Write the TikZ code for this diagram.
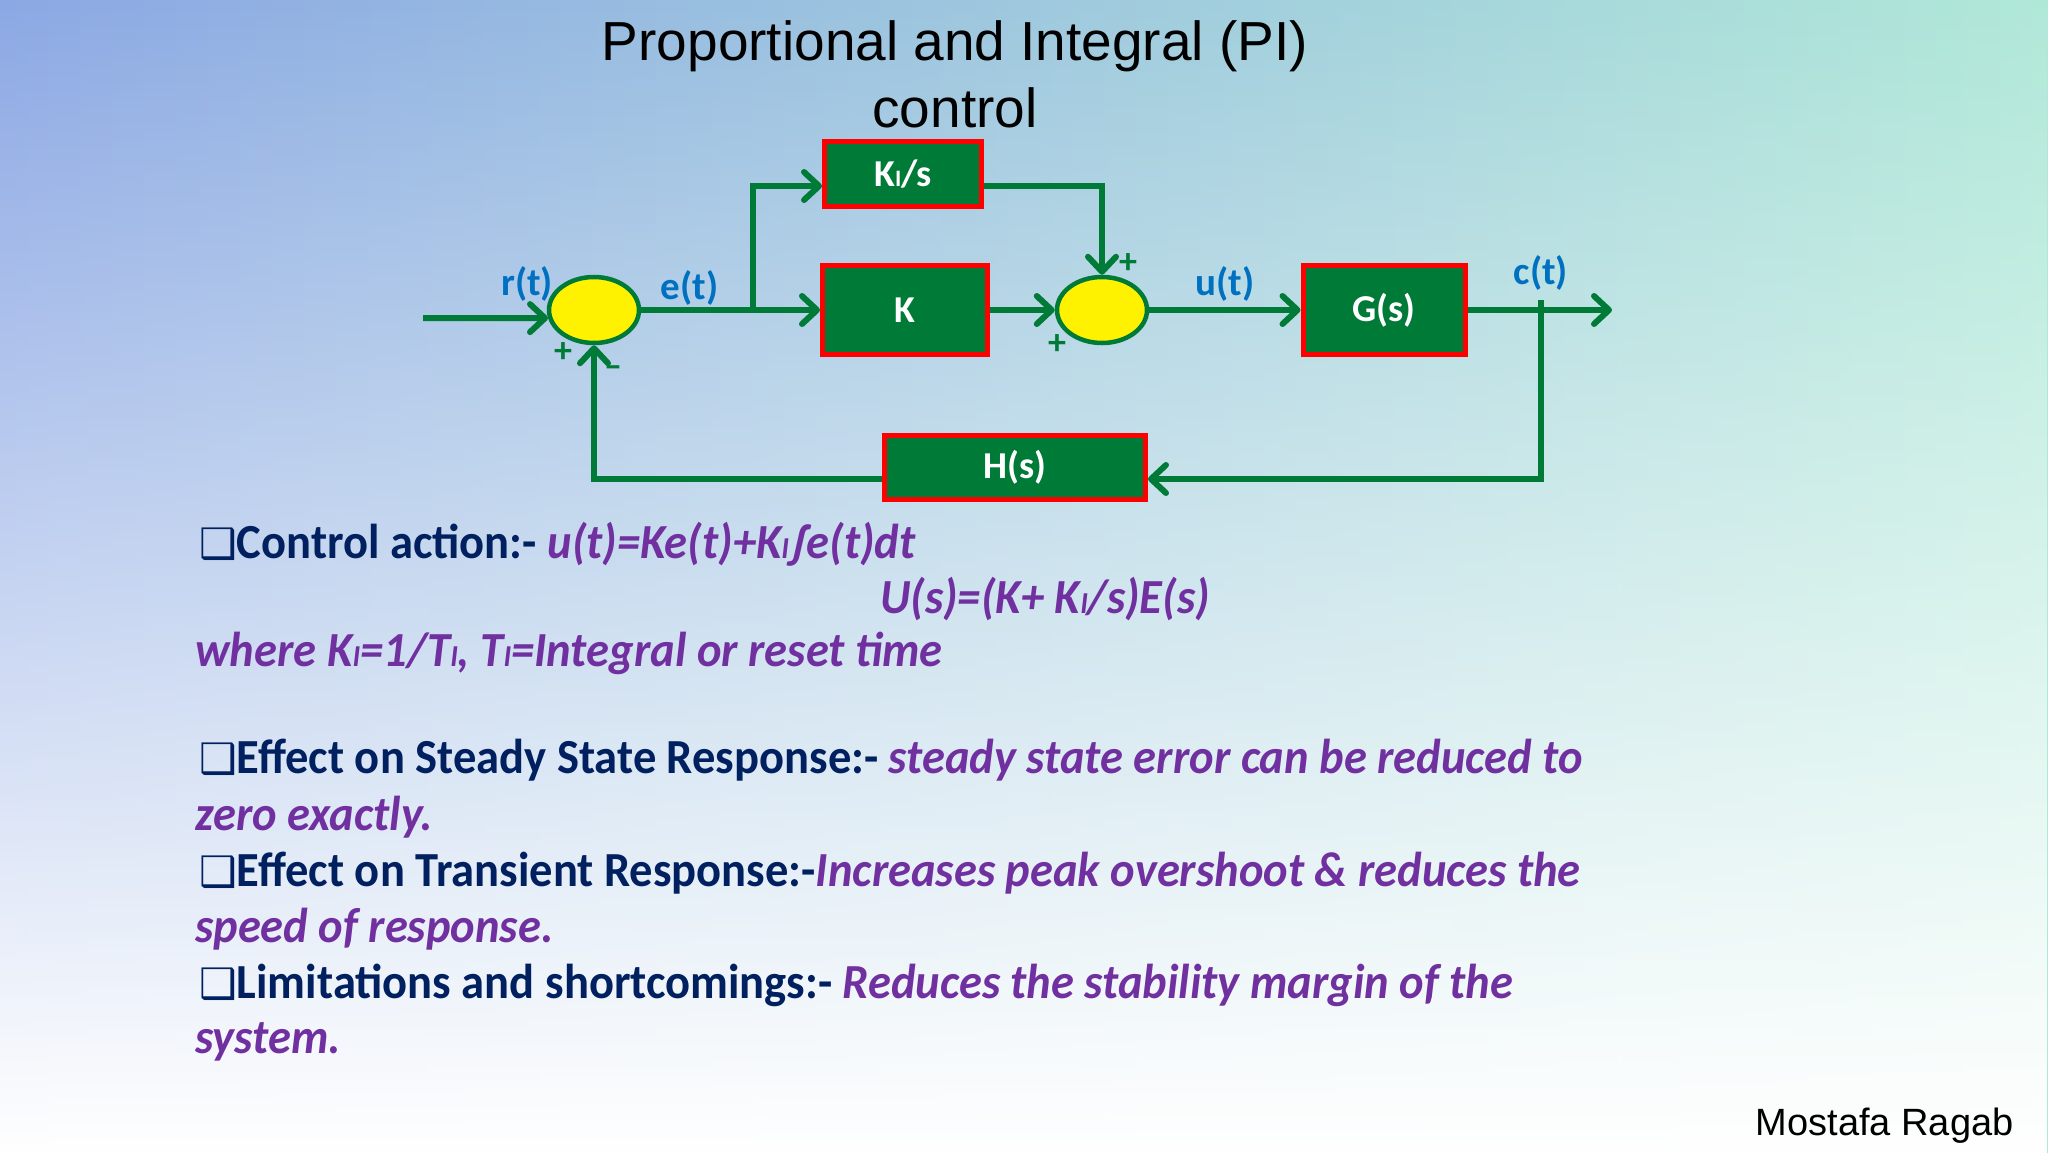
\documentclass[tikz,border=0pt]{standalone}
\usepackage{graphicx}
\usepackage{fontspec}
\setmainfont{Carlito}[FakeStretch=0.95]
\newfontfamily\labelfont{Carlito}
\newfontfamily\arialfont{Liberation Sans}
\newfontfamily\dingfont{DejaVu Sans}
\usetikzlibrary{arrows.meta,positioning,shapes.geometric,fadings}

\definecolor{pigreen}{RGB}{0,122,55}
\definecolor{pired}{RGB}{255,0,0}
\definecolor{sigblue}{RGB}{0,112,192}
\definecolor{navy}{RGB}{0,32,96}
\definecolor{purp}{RGB}{112,48,160}
\definecolor{bgblue}{RGB}{140,168,228}
\definecolor{bgmid}{RGB}{165,204,236}
\definecolor{bgteal}{RGB}{176,232,216}
\newcommand{\subI}{\scalebox{0.62}{I}}
\newcommand{\bul}{{\dingfont\fontsize{42}{48}\selectfont ❑}}
\tikzfading[name=fadedown,top color=transparent!100,
  middle color=transparent!30,bottom color=transparent!0]

\begin{document}
\begin{tikzpicture}[x=1pt,y=-1pt,
  blk/.style={draw=pired,line width=5pt,fill=pigreen,text=white,
    font=\labelfont\fontsize{38}{44}\selectfont\bfseries,inner sep=0pt},
  sumj/.style={ellipse,draw=pigreen,line width=4.5pt,fill=yellow,
    minimum width=90pt,minimum height=66pt,inner sep=0pt},
  flow/.style={draw=pigreen,line width=6pt,
    -{Straight Barb[length=15pt,width=28pt,round]}},
  sig/.style={text=sigblue,font=\labelfont\fontsize{39}{44}\selectfont\bfseries,inner sep=2pt},
  sign/.style={text=pigreen,font=\labelfont\fontsize{36}{40}\selectfont\bfseries,inner sep=0pt},
  head/.style={anchor=base west,text=navy,inner sep=0pt,
    font=\fontsize{49}{56}\selectfont\bfseries},
  eqn/.style={anchor=base west,text=purp,inner sep=0pt,
    font=\fontsize{49}{56}\selectfont\bfseries\itshape}]
\useasboundingbox (0,0) rectangle (2048,1152);
\shade[left color=bgblue,middle color=bgmid,right color=bgteal] (0,0) rectangle (2048,1152);
\fill[white,path fading=fadedown] (0,0) rectangle (2048,1152);

\node[anchor=base,font=\arialfont\fontsize{55}{64}\selectfont] (title) at (955,60) {Proportional and Integral (PI)};
\node[anchor=base,font=\arialfont\fontsize{55}{64}\selectfont] (title2) at (955,127) {control};

% block diagram
\node[sumj] (sum1) at (594,310) {};
\node[blk,minimum width=157pt,minimum height=65pt] (ki) at (903,174) {K\subI/s};
\node[blk,minimum width=165pt,minimum height=89pt] (kp) at (905,310) {K};
\node[sumj] (sum2) at (1102,310) {};
\node[blk,minimum width=162pt,minimum height=89pt] (gs) at (1384,310) {G(s)};
\node[blk,minimum width=261pt,minimum height=64pt] (hs) at (1015,467) {H(s)};

\coordinate (rin) at (423,318);
\coordinate (split) at (753,310);
\coordinate (cout) at (1612,310);
\coordinate (tap) at (1541,300);

\draw[flow] (rin)--(sum1.190);
\draw[flow] (sum1.east)--node[sig,above,pos=0.27] (et) {e(t)}(kp.west);
\draw[flow] (split)|-([yshift=-12pt]ki.west);
\draw[flow] ([yshift=-12pt]ki.east)-|(sum2.north);
\draw[flow] (kp.east)--(sum2.west);
\draw[flow] (sum2.east)--node[sig,above,yshift=4pt] (ut) {u(t)}(gs.west);
\draw[flow] (gs.east)--(cout);
\draw[flow] (tap)|-([yshift=-12pt]hs.east);
\draw[flow] ([yshift=-12pt]hs.west)-|(sum1.south);

\node[sig] (rt) at (527,284) {r(t)};
\node[sig] (ct) at (1541,273) {c(t)};
\node[sign] (p1) at (563,353) {+};
\node[sign] (m1) at (613,372) {–};
\node[sign] (p2) at (1128,264) {+};
\node[sign] (p3) at (1057,345) {+};

% text of the slide
\node[head] (act) at (199,558) {\bul Control action:- {\color{purp}\itshape u(t)=Ke(t)+K\subI∫e(t)dt}};
\node[eqn] (lap) at (880,613) {U(s)=(K+ K\subI/s)E(s)};
\node[eqn] (where) at (195,666) {where K\subI=1/T\subI , T\subI=Integral or reset time};
\node[head] (steady) at (199,773) {\bul Effect on Steady State Response:- {\color{purp}\itshape steady state error can be reduced to}};
\node[eqn] (steady2) at (195,830) {zero exactly.};
\node[head] (trans) at (199,886) {\bul Effect on Transient Response:-{\color{purp}\itshape Increases peak overshoot \& reduces the}};
\node[eqn] (trans2) at (195,942) {speed of response.};
\node[head] (limit) at (199,998) {\bul Limitations and shortcomings:- {\color{purp}\itshape Reduces the stability margin of the}};
\node[eqn] (limit2) at (195,1053) {system.};

\node[anchor=base east,font=\arialfont\fontsize{38}{44}\selectfont] (author) at (2017,1135) {Mostafa Ragab};
\end{tikzpicture}
\end{document}
